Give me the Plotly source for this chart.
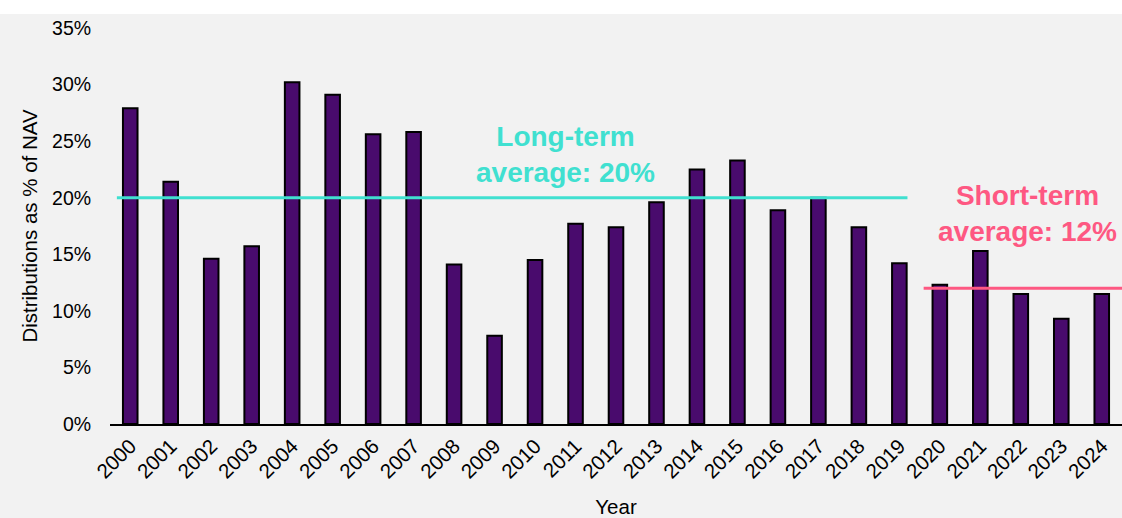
import plotly.graph_objects as go

years = [str(y) for y in range(2000, 2025)]
distributions = [27.9, 21.4, 14.6, 15.7, 30.2, 29.1, 25.6, 25.8, 14.1, 7.8,
                 14.5, 17.7, 17.4, 19.6, 22.5, 23.3, 18.9, 20.0, 17.4, 14.2,
                 12.3, 15.3, 11.5, 9.3, 11.5]

long_term_avg = 20
short_term_avg = 12
long_term_span = [-0.33, 19.2]
short_term_span = [19.6, 24.5]

TURQ = "#40e0d0"
PINK = "#fe5882"
BAR = "#490b6d"
FONT = "Liberation Sans, Arial, sans-serif"

fig = go.Figure()

fig.add_trace(go.Bar(
    x=list(range(len(years))), y=distributions,
    marker=dict(color=BAR, line=dict(color="black", width=2)),
    width=0.36, hoverinfo="x+y", showlegend=False,
))

fig.add_trace(go.Scatter(
    x=long_term_span, y=[long_term_avg, long_term_avg], mode="lines",
    line=dict(color=TURQ, width=3), showlegend=False, hoverinfo="skip",
))
fig.add_trace(go.Scatter(
    x=short_term_span, y=[short_term_avg, short_term_avg], mode="lines",
    line=dict(color=PINK, width=3), showlegend=False, hoverinfo="skip",
))

fig.add_annotation(
    x=10.76, y=23.8, xref="x", yref="y", showarrow=False,
    text=f"<b>Long-term<br>average: {long_term_avg}%</b>",
    font=dict(family=FONT, size=28, color=TURQ), align="center",
    yanchor="middle",
)
fig.add_annotation(
    x=22.17, y=18.6, xref="x", yref="y", showarrow=False,
    text=f"<b>Short-term<br>average: {short_term_avg}%</b>",
    font=dict(family=FONT, size=28, color=PINK), align="center",
    yanchor="middle",
)

# white strip along the top edge of the page
fig.add_shape(type="rect", xref="paper", yref="paper",
              x0=-0.2, x1=1.05, y0=1.0354, y1=1.2,
              fillcolor="white", line=dict(width=0), layer="below")

fig.update_layout(
    width=1122, height=518,
    margin=dict(l=110, r=0, t=28, b=94),
    paper_bgcolor="#f2f2f2", plot_bgcolor="#f2f2f2",
    font=dict(family=FONT, size=19.5, color="black"),
    xaxis=dict(
        range=[-0.5, 24.5], tickmode="array",
        tickvals=list(range(len(years))), ticktext=years,
        tickangle=-45, showline=True, linecolor="black", linewidth=2,
        showgrid=False, zeroline=False, ticks="",
        tickfont=dict(size=20.5),
        title=dict(text="Year", font=dict(size=20.5), standoff=18),
        fixedrange=True,
    ),
    yaxis=dict(
        range=[0, 35], dtick=5, ticksuffix="%", showgrid=False,
        zeroline=False, showline=False, ticks="outside", ticklen=14,
        tickcolor="rgba(0,0,0,0)",
        title=dict(text="Distributions as % of NAV", font=dict(size=20.5),
                   standoff=8),
        fixedrange=True,
    ),
)

fig.write_html("out.html")
